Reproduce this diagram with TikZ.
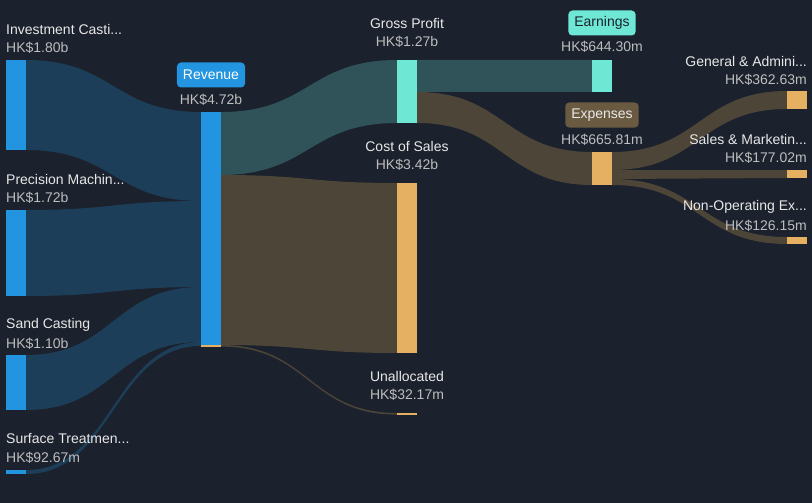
\documentclass[tikz,border=0pt]{standalone}
\usepackage{fontspec}
\setmainfont{Liberation Sans}
\definecolor{bg}{HTML}{1B212D}
\definecolor{barblue}{HTML}{2394DF}
\definecolor{flowblue}{HTML}{1D3E58}
\definecolor{barteal}{HTML}{6EE8D4}
\definecolor{flowteal}{HTML}{2F5358}
\definecolor{barorange}{HTML}{E6B062}
\definecolor{flowbrown}{HTML}{4D4538}
\definecolor{boxbrown}{HTML}{6B5A42}
\definecolor{txtw}{HTML}{E8E8E8}
\definecolor{txtg}{HTML}{BDBDBD}
\newcommand\sflow[7]{%
  \fill[#7] (#1,#2) .. controls ({(#1+#4)/2},#2) and ({(#1+#4)/2},#5) .. (#4,#5)
    -- (#4,#6) .. controls ({(#1+#4)/2},#6) and ({(#1+#4)/2},#3) .. (#1,#3) -- cycle;}
\begin{document}
\begin{tikzpicture}[x=1pt,y=-1pt,
  lbl/.style={font=\fontsize{14}{16}\selectfont,text=txtw,inner sep=0pt},
  val/.style={font=\fontsize{14}{16}\selectfont,text=txtg,inner sep=0pt},
  tag/.style={font=\fontsize{14}{16}\selectfont,rounded corners=4pt,minimum height=25pt,inner xsep=6pt,inner ysep=0pt}]
\fill[bg] (0,0) rectangle (812,503);
% flows: sources -> revenue
\sflow{26}{60}{150}{201}{112}{201}{flowblue}
\sflow{26}{210}{296}{201}{201}{287}{flowblue}
\sflow{26}{355}{410}{201}{287}{342}{flowblue}
\sflow{26}{470}{474}{201}{342}{346}{flowblue}
% revenue -> GP, CoS, Unallocated
\sflow{221}{112}{175}{397}{60}{123}{flowteal}
\sflow{221}{175}{345}{397}{183}{353}{flowbrown}
\sflow{221}{345}{346.6}{397}{413}{414.6}{flowbrown}
% GP -> Earnings, Expenses
\sflow{417}{60}{92}{592}{60}{92}{flowteal}
\sflow{417}{92}{123}{592}{152}{185}{flowbrown}
% Expenses -> items
\sflow{612}{152}{170}{787}{91}{109}{flowbrown}
\sflow{612}{170}{179}{787}{170}{178}{flowbrown}
\sflow{612}{179}{185}{787}{237}{244}{flowbrown}
% bars
\fill[barblue] (6,60) rectangle (26,150);
\fill[barblue] (6,210) rectangle (26,296);
\fill[barblue] (6,355) rectangle (26,410);
\fill[barblue] (6,470) rectangle (26,474);
\fill[barblue] (201,112) rectangle (221,345);
\fill[barorange] (201,345) rectangle (221,347);
\fill[barteal] (397,60) rectangle (417,123);
\fill[barorange] (397,183) rectangle (417,353);
\fill[barorange] (397,413) rectangle (417,415);
\fill[barteal] (592,60) rectangle (612,92);
\fill[barorange] (592,152) rectangle (612,185);
\fill[barorange] (787,91) rectangle (807,109);
\fill[barorange] (787,170) rectangle (807,178);
\fill[barorange] (787,237) rectangle (807,244);
% left labels
\node[lbl,anchor=west] (l1) at (6,29) {Investment Casti...};
\node[val,anchor=west] (v1) at (6,48) {HK\$1.80b};
\node[lbl,anchor=west] (l2) at (6,179) {Precision Machin...};
\node[val,anchor=west] (v2) at (6,198) {HK\$1.72b};
\node[lbl,anchor=west] (l3) at (6,325) {Sand Casting};
\node[val,anchor=west] (v3) at (6,344) {HK\$1.10b};
\node[lbl,anchor=west] (l4) at (6,439) {Surface Treatmen...};
\node[val,anchor=west] (v4) at (6,458) {HK\$92.67m};
% middle labels
\node[tag,fill=barblue,text=white] (rev) at (211,75) {Revenue};
\node[val] (vrev) at (211,100) {HK\$4.72b};
\node[lbl] (lgp) at (407,23) {Gross Profit};
\node[val] (vgp) at (407,42) {HK\$1.27b};
\node[lbl] (lcos) at (407,146) {Cost of Sales};
\node[val] (vcos) at (407,165) {HK\$3.42b};
\node[lbl] (lun) at (407,376) {Unallocated};
\node[val] (vun) at (407,395) {HK\$32.17m};
\node[tag,fill=barteal,text=bg] (earn) at (602,23) {Earnings};
\node[val] (vearn) at (602,47) {HK\$644.30m};
\node[tag,fill=boxbrown,text=txtw] (exp) at (602,115) {Expenses};
\node[val] (vexp) at (602,140) {HK\$665.81m};
% right labels
\node[lbl,anchor=east] (lga) at (807,61) {General \& Admini...};
\node[val,anchor=east] (vga) at (807,80) {HK\$362.63m};
\node[lbl,anchor=east] (lsm) at (807,139) {Sales \& Marketin...};
\node[val,anchor=east] (vsm) at (807,158) {HK\$177.02m};
\node[lbl,anchor=east] (lno) at (807,207) {Non-Operating Ex...};
\node[val,anchor=east] (vno) at (807,226) {HK\$126.15m};
\end{tikzpicture}
\end{document}
